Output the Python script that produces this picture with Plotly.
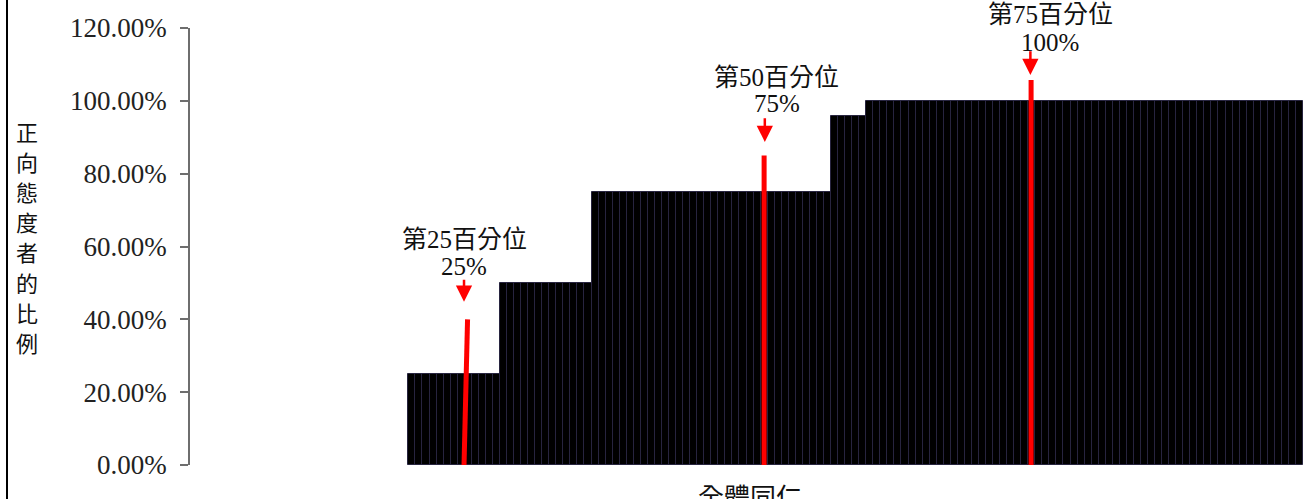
import plotly.graph_objects as go

# ---- data ----
levels = [0.0, 0.25, 0.50, 0.75, 0.958, 1.0]      # share of positive attitude
counts = [31, 13, 13, 34, 5, 62]                   # number of staff at each level (sorted)
x_category = "全體同仁"
y_title = "正向態度者的比例"
y_ticks = [0, 0.2, 0.4, 0.6, 0.8, 1.0, 1.2]
y_ticklabels = ["0.00%", "20.00%", "40.00%", "60.00%", "80.00%", "100.00%", "120.00%"]

pct_names = ["第25百分位", "第50百分位", "第75百分位"]
pct_values = ["25%", "75%", "100%"]
pct_line_x0 = [38.4, 81.0, 118.9]     # bottom x of red marker line (bar index)
pct_line_x1 = [38.9, 81.0, 118.9]     # top x of red marker line
pct_line_top = [0.40, 0.85, 1.057]
pct_arrow_x = [38.4, 81.1, 118.8]
pct_arrow_tail = [0.513, 0.956, 1.140]
pct_arrow_tip = [0.448, 0.887, 1.071]
pct_text_x = [38.4, 82.8, 121.6]
pct_text_y1 = [0.618, 1.065, 1.236]
pct_text_y2 = [0.546, 0.994, 1.159]

# expand to one bar per person
values = []
for lv, c in zip(levels, counts):
    values += [lv] * c
idx = list(range(len(values)))
line_cols = ["rgba(0,0,0,0)" if v == 0 else "#27243f" for v in values]

SERIF = "Liberation Serif, Noto Sans CJK TC, serif"
CJK = "Noto Sans CJK TC, sans-serif"

Y_MAX = 1.2

fig = go.Figure(go.Bar(
    x=idx, y=values, width=1,
    marker=dict(color="#000000", line=dict(color=line_cols, width=1)),
    hoverinfo="skip",
))

shapes = []
annotations = []
for i in range(3):
    shapes.append(dict(type="line", xref="x", yref="y",
                       x0=pct_line_x0[i], x1=pct_line_x1[i], y0=0, y1=pct_line_top[i],
                       line=dict(color="#ff0000", width=5)))
    annotations.append(dict(x=pct_arrow_x[i], y=pct_arrow_tip[i], ax=pct_arrow_x[i], ay=pct_arrow_tail[i],
                            xref="x", yref="y", axref="x", ayref="y", text="", showarrow=True,
                            arrowhead=2, arrowsize=1.3, arrowwidth=2.5, arrowcolor="#ff0000",
                            standoff=0, startstandoff=0))
    annotations.append(dict(x=pct_text_x[i], y=pct_text_y1[i] / Y_MAX, xref="x", yref="paper",
                            xanchor="center", yanchor="middle",
                            text=pct_names[i], showarrow=False,
                            font=dict(family=SERIF, size=25, color="#111111")))
    annotations.append(dict(x=pct_text_x[i], y=pct_text_y2[i] / Y_MAX, xref="x", yref="paper",
                            xanchor="center", yanchor="middle",
                            text=pct_values[i], showarrow=False,
                            font=dict(family=SERIF, size=25, color="#111111")))

# y-axis title, stacked vertically, one character per annotation
PLOT_TOP, PLOT_BOT, PLOT_L, PLOT_W = 28, 465, 190, 1113
for k, ch in enumerate(y_title):
    py = 131 + 30.1 * k
    annotations.append(dict(x=(27 - PLOT_L) / PLOT_W, y=(PLOT_BOT - py) / (PLOT_BOT - PLOT_TOP),
                            xref="paper", yref="paper", xanchor="center", yanchor="middle",
                            text=ch, showarrow=False,
                            font=dict(family=CJK, size=22, color="#111111")))
# x category label
annotations.append(dict(x=0.503, y=-0.024, xref="paper", yref="paper", xanchor="center", yanchor="top",
                        text=x_category, showarrow=False,
                        font=dict(family=CJK, size=26, color="#111111")))

# left frame line
shapes.append(dict(type="line", xref="paper", yref="paper",
                   x0=(7 - PLOT_L) / PLOT_W, x1=(7 - PLOT_L) / PLOT_W, y0=-0.1, y1=1.1,
                   line=dict(color="#000000", width=2)))

fig.update_layout(
    width=1303, height=499,
    margin=dict(l=190, r=0, t=28, b=34),
    paper_bgcolor="white", plot_bgcolor="white",
    bargap=0, showlegend=False,
    shapes=shapes, annotations=annotations,
    xaxis=dict(range=[-0.5, len(values) - 0.5], showticklabels=False, showgrid=False,
               zeroline=False, showline=False, ticks=""),
    yaxis=dict(range=[0, Y_MAX], tickvals=y_ticks, ticktext=y_ticklabels,
               showgrid=False, zeroline=False, showline=True, linecolor="#6e6e6e", linewidth=1.5,
               ticks="outside", ticklen=8, tickcolor="#6e6e6e", tickwidth=1.5,
               ticklabelstandoff=8,
               tickfont=dict(family=SERIF, size=27, color="#222222")),
)

fig.write_html("out.html", config={"displayModeBar": False},
               post_script="document.body.style.margin='0';")
